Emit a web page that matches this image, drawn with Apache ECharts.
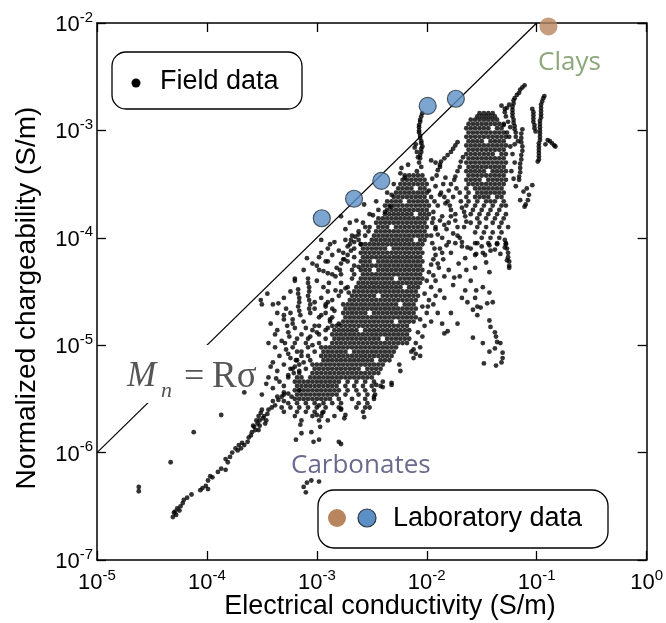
<!DOCTYPE html>
<html><head><meta charset="utf-8">
<script src="https://cdn.jsdelivr.net/npm/echarts@6/dist/echarts.min.js"></script>
<style>html,body{margin:0;padding:0;background:#fff}#c{width:666px;height:623px}</style>
</head><body><div id="c"></div>
<script>
// ---- Data ----
// Laboratory data
const labSigma = [1.11e-3, 2.18e-3, 3.86e-3, 1.02e-2, 1.84e-2];
const labMn    = [1.52e-4, 2.31e-4, 3.39e-4, 1.69e-3, 1.97e-3];
const claySigma = [0.128];
const clayMn    = [9.3e-3];
// Mn = R * sigma, R = 0.1
const R = 0.1;
const lineSigma = [1e-5, 1e-1];

// Field data (log10 values). Dense rows: [log10 Mn, [log10 sigma ...]]
const bandRows = [
[-3.42,[-2.20,-2.16,-2.12,-2.08,-2.04]],
[-3.46,[-2.22,-2.18,-2.14,-2.10,-2.06,-2.02]],
[-3.50,[-2.30,-2.24,-2.20,-2.16,-2.12,-2.08,-2.04,-2.00]],
[-3.54,[-2.26,-2.22,-2.18,-2.14,-2.06,-2.02]],
[-3.58,[-2.36,-2.28,-2.24,-2.20,-2.16,-2.12,-2.08,-2.04,-2.00]],
[-3.62,[-2.30,-2.26,-2.22,-2.18,-2.14,-2.10,-2.06,-2.02]],
[-3.66,[-2.46,-2.36,-2.32,-2.28,-2.24,-2.16,-2.12,-2.08,-2.04,-2.00]],
[-3.70,[-2.38,-2.34,-2.30,-2.26,-2.22,-2.18,-2.14,-2.10,-2.06,-2.02,-1.98]],
[-3.74,[-2.44,-2.36,-2.32,-2.28,-2.24,-2.20,-2.16,-2.12,-2.08,-2.04,-2.00]],
[-3.78,[-2.52,-2.38,-2.34,-2.30,-2.26,-2.22,-2.18,-2.14,-2.06,-2.02,-1.98]],
[-3.82,[-2.44,-2.40,-2.36,-2.32,-2.28,-2.24,-2.20,-2.16,-2.12,-2.08,-2.04,-2.00,-1.94]],
[-3.86,[-2.58,-2.46,-2.42,-2.38,-2.34,-2.30,-2.26,-2.22,-2.18,-2.14,-2.10,-2.06,-2.02]],
[-3.90,[-2.52,-2.44,-2.40,-2.36,-2.28,-2.24,-2.20,-2.16,-2.12,-2.08,-2.04,-2.00,-1.92]],
[-3.94,[-2.62,-2.46,-2.42,-2.38,-2.34,-2.30,-2.26,-2.22,-2.18,-2.14,-2.10,-2.06,-2.02]],
[-3.98,[-2.68,-2.56,-2.48,-2.44,-2.40,-2.36,-2.32,-2.28,-2.24,-2.20,-2.16,-2.12,-2.08,-2.04,-2.00]],
[-4.02,[-2.74,-2.62,-2.50,-2.46,-2.42,-2.38,-2.34,-2.30,-2.26,-2.22,-2.18,-2.14,-2.06,-2.02]],
[-4.06,[-2.88,-2.70,-2.60,-2.56,-2.52,-2.48,-2.44,-2.40,-2.36,-2.32,-2.28,-2.24,-2.20,-2.16,-2.12,-2.08,-2.04]],
[-4.10,[-2.66,-2.58,-2.54,-2.50,-2.46,-2.42,-2.38,-2.30,-2.26,-2.22,-2.18,-2.14,-2.10,-2.06]],
[-4.14,[-2.96,-2.76,-2.60,-2.56,-2.52,-2.48,-2.44,-2.40,-2.36,-2.32,-2.28,-2.24,-2.20,-2.16,-2.12,-2.08,-2.04]],
[-4.18,[-2.66,-2.58,-2.54,-2.50,-2.46,-2.42,-2.38,-2.34,-2.30,-2.26,-2.22,-2.18,-2.14,-2.10,-2.06]],
[-4.22,[-2.90,-2.72,-2.60,-2.56,-2.52,-2.44,-2.40,-2.36,-2.32,-2.28,-2.24,-2.20,-2.16,-2.12,-2.08,-2.04]],
[-4.26,[-3.00,-2.66,-2.58,-2.54,-2.50,-2.46,-2.42,-2.38,-2.34,-2.30,-2.26,-2.22,-2.18,-2.14,-2.10,-2.06]],
[-4.30,[-2.68,-2.60,-2.56,-2.52,-2.44,-2.40,-2.36,-2.32,-2.28,-2.24,-2.20,-2.16,-2.12,-2.08,-2.04]],
[-4.34,[-2.78,-2.66,-2.58,-2.54,-2.50,-2.46,-2.42,-2.38,-2.34,-2.30,-2.26,-2.22,-2.18,-2.14,-2.10,-2.06]],
[-4.38,[-3.20,-2.68,-2.60,-2.56,-2.52,-2.48,-2.44,-2.40,-2.36,-2.32,-2.24,-2.20,-2.16,-2.12,-2.08,-2.04]],
[-4.42,[-2.78,-2.62,-2.58,-2.54,-2.50,-2.46,-2.42,-2.38,-2.34,-2.30,-2.26,-2.22,-2.18,-2.14,-2.10,-2.06]],
[-4.46,[-2.72,-2.64,-2.60,-2.56,-2.52,-2.48,-2.44,-2.40,-2.36,-2.32,-2.28,-2.24,-2.16,-2.12,-2.08]],
[-4.50,[-2.90,-2.78,-2.66,-2.62,-2.58,-2.54,-2.50,-2.46,-2.42,-2.38,-2.34,-2.30,-2.26,-2.22,-2.18,-2.14,-2.10]],
[-4.54,[-2.80,-2.68,-2.64,-2.60,-2.56,-2.52,-2.48,-2.40,-2.36,-2.32,-2.28,-2.24,-2.20,-2.16,-2.12,-2.08]],
[-4.58,[-2.86,-2.70,-2.66,-2.62,-2.58,-2.54,-2.50,-2.46,-2.42,-2.38,-2.34,-2.30,-2.26,-2.22,-2.18,-2.14,-2.10]],
[-4.62,[-2.92,-2.76,-2.72,-2.68,-2.64,-2.60,-2.56,-2.52,-2.48,-2.44,-2.40,-2.36,-2.32,-2.28,-2.20,-2.16,-2.12]],
[-4.66,[-3.02,-2.86,-2.74,-2.70,-2.66,-2.62,-2.58,-2.54,-2.50,-2.46,-2.42,-2.38,-2.34,-2.30,-2.26,-2.22,-2.18,-2.14,-2.10]],
[-4.70,[-2.92,-2.76,-2.72,-2.68,-2.64,-2.60,-2.56,-2.48,-2.44,-2.40,-2.36,-2.32,-2.28,-2.24,-2.20,-2.16,-2.12]],
[-4.74,[-2.98,-2.86,-2.74,-2.70,-2.66,-2.62,-2.58,-2.54,-2.50,-2.46,-2.42,-2.38,-2.34,-2.30,-2.26,-2.22,-2.18,-2.14,-2.10]],
[-4.78,[-2.88,-2.76,-2.72,-2.68,-2.64,-2.60,-2.56,-2.52,-2.48,-2.44,-2.40,-2.36,-2.32,-2.24,-2.20,-2.16,-2.12]],
[-4.82,[-2.98,-2.86,-2.82,-2.78,-2.74,-2.70,-2.66,-2.62,-2.58,-2.54,-2.50,-2.46,-2.42,-2.38,-2.34,-2.30,-2.26,-2.22,-2.18]],
[-4.86,[-3.04,-2.92,-2.84,-2.80,-2.76,-2.72,-2.68,-2.64,-2.56,-2.52,-2.48,-2.44,-2.40,-2.36,-2.32,-2.28,-2.24,-2.20,-2.16]],
[-4.90,[-2.98,-2.86,-2.82,-2.78,-2.74,-2.70,-2.66,-2.62,-2.58,-2.54,-2.50,-2.46,-2.42,-2.38,-2.34,-2.30,-2.26,-2.22,-2.18]],
[-4.94,[-3.08,-2.92,-2.84,-2.80,-2.76,-2.72,-2.68,-2.64,-2.60,-2.56,-2.52,-2.48,-2.44,-2.36,-2.32,-2.28,-2.24,-2.20,-2.16]],
[-4.98,[-2.98,-2.86,-2.82,-2.78,-2.74,-2.70,-2.66,-2.62,-2.58,-2.54,-2.50,-2.46,-2.42,-2.38,-2.34,-2.30,-2.26,-2.22,-2.18]],
[-5.02,[-3.08,-2.96,-2.92,-2.88,-2.84,-2.80,-2.76,-2.72,-2.68,-2.64,-2.60,-2.56,-2.52,-2.48,-2.44,-2.40,-2.36,-2.32,-2.28]],
[-5.06,[-3.14,-3.02,-2.94,-2.90,-2.86,-2.82,-2.78,-2.74,-2.66,-2.62,-2.58,-2.54,-2.50,-2.46,-2.42,-2.38,-2.34,-2.30]],
[-5.10,[-3.08,-2.96,-2.92,-2.88,-2.84,-2.80,-2.76,-2.72,-2.68,-2.64,-2.60,-2.56,-2.52,-2.48,-2.44,-2.40,-2.36,-2.32]],
[-5.14,[-3.18,-3.06,-2.94,-2.90,-2.86,-2.82,-2.78,-2.74,-2.70,-2.66,-2.62,-2.58,-2.54,-2.50,-2.42,-2.38,-2.34]],
[-5.18,[-3.16,-3.04,-3.00,-2.96,-2.92,-2.88,-2.84,-2.80,-2.76,-2.72,-2.68,-2.64,-2.60,-2.56,-2.52,-2.48,-2.44,-2.40]],
[-5.22,[-3.22,-3.10,-3.02,-2.98,-2.94,-2.90,-2.86,-2.82,-2.78,-2.74,-2.70,-2.66,-2.62,-2.54,-2.50,-2.46,-2.42]],
[-5.26,[-3.16,-3.04,-3.00,-2.96,-2.92,-2.88,-2.84,-2.80,-2.76,-2.72,-2.68,-2.64,-2.60,-2.56,-2.52,-2.48,-2.44]],
[-5.30,[-3.26,-3.14,-3.06,-3.02,-2.98,-2.94,-2.90,-2.86,-2.82,-2.78,-2.74,-2.70,-2.66,-2.62,-2.58,-2.54,-2.50]],
[-5.34,[-3.20,-3.16,-3.12,-3.08,-3.04,-3.00,-2.96,-2.92,-2.88,-2.84,-2.80,-2.72,-2.64,-2.56,-2.48,-2.40]],
[-5.38,[-3.30,-3.18,-3.14,-3.10,-3.06,-3.02,-2.98,-2.94,-2.90,-2.86,-2.82,-2.74,-2.66,-2.58,-2.50,-2.42]],
[-5.42,[-3.20,-3.16,-3.12,-3.08,-3.04,-3.00,-2.96,-2.92,-2.88,-2.84,-2.80,-2.72,-2.64,-2.56,-2.48]],
[-5.46,[-3.30,-3.18,-3.14,-3.10,-3.06,-3.02,-2.98,-2.94,-2.90,-2.86,-2.82,-2.74,-2.62,-2.54]],
[-5.50,[-3.20,-3.16,-3.12,-3.08,-3.04,-3.00,-2.96,-2.92,-2.88,-2.80,-2.68,-2.56,-2.48]],
[-5.54,[-3.26,-3.18,-3.10,-3.02,-2.94,-2.86,-2.78,-2.62,-2.54]],
[-5.58,[-3.24,-3.16,-3.08,-3.00,-2.92,-2.80,-2.56,-2.52]],
[-5.62,[-3.30,-3.18,-3.10,-3.02,-2.94,-2.58]],
[-5.66,[-3.20,-3.04,-2.96,-2.84]],
[-5.70,[-3.14,-2.98,-2.90]]
];

// Upper-right dense cluster (~2e-2 to 5e-2 S/m)
const clusterRows = [
[-2.84,[-1.52,-1.48,-1.44,-1.40]],
[-2.87,[-1.54,-1.50,-1.46,-1.42,-1.38]],
[-2.90,[-1.60,-1.56,-1.52,-1.48,-1.44,-1.40,-1.36]],
[-2.94,[-1.62,-1.58,-1.54,-1.50,-1.46,-1.42,-1.38,-1.34,-1.30]],
[-2.98,[-1.64,-1.60,-1.56,-1.52,-1.48,-1.44,-1.36,-1.32]],
[-3.02,[-1.62,-1.58,-1.54,-1.50,-1.46,-1.42,-1.38,-1.34,-1.30]],
[-3.06,[-1.64,-1.60,-1.56,-1.52,-1.48,-1.44,-1.40,-1.36,-1.32,-1.28]],
[-3.10,[-1.62,-1.58,-1.54,-1.50,-1.42,-1.38,-1.34,-1.30]],
[-3.14,[-1.64,-1.60,-1.56,-1.52,-1.48,-1.44,-1.40,-1.36,-1.32,-1.28]],
[-3.18,[-1.62,-1.58,-1.54,-1.50,-1.46,-1.42,-1.38,-1.34,-1.30]],
[-3.22,[-1.64,-1.60,-1.56,-1.52,-1.48,-1.44,-1.40,-1.32,-1.28]],
[-3.26,[-1.62,-1.58,-1.54,-1.50,-1.46,-1.42,-1.38,-1.34,-1.30]],
[-3.30,[-1.64,-1.60,-1.56,-1.52,-1.48,-1.44,-1.40,-1.36,-1.32,-1.28]],
[-3.34,[-1.62,-1.58,-1.54,-1.50,-1.46,-1.42,-1.38,-1.34,-1.30]],
[-3.38,[-1.64,-1.60,-1.56,-1.52,-1.48,-1.40,-1.36,-1.32,-1.28]],
[-3.42,[-1.62,-1.58,-1.54,-1.50,-1.46,-1.42,-1.38,-1.34,-1.30]],
[-3.46,[-1.64,-1.60,-1.56,-1.52,-1.44,-1.40,-1.36,-1.32,-1.28]],
[-3.50,[-1.62,-1.58,-1.54,-1.50,-1.46,-1.42,-1.38,-1.34,-1.30]],
[-3.54,[-1.64,-1.56,-1.52,-1.48,-1.44,-1.40,-1.36,-1.32]],
[-3.58,[-1.62,-1.54,-1.50,-1.46,-1.42,-1.38,-1.34,-1.30]],
[-3.62,[-1.64,-1.56,-1.52,-1.48,-1.44,-1.36,-1.32]],
[-3.66,[-1.62,-1.54,-1.46,-1.42,-1.38,-1.30]],
[-3.70,[-1.64,-1.56,-1.48,-1.40,-1.32,-1.28]],
[-3.74,[-1.58,-1.50,-1.42,-1.34]],
[-3.78,[-1.60,-1.52,-1.44,-1.36,-1.28]],
[-3.82,[-1.54,-1.46,-1.38,-1.30]],
[-3.86,[-1.60,-1.52,-1.40,-1.32]],
[-3.90,[-1.54,-1.46,-1.34,-1.26]],
[-3.95,[-1.56,-1.48,-1.40,-1.32]],
[-4.00,[-1.50,-1.42,-1.34]],
[-4.05,[-1.56,-1.44,-1.36,-1.28]]
];

// Streaks and scattered field points [log10 sigma, log10 Mn]
const streakHigh = [
[-1.11,-2.58],[-1.13,-2.60],[-1.15,-2.62],[-1.16,-2.65],[-1.18,-2.67],[-1.20,-2.70],[-1.21,-2.72],[-1.21,-2.75],
[-1.22,-2.78],[-1.22,-2.81],[-1.22,-2.84],[-1.22,-2.87],[-1.21,-2.90],[-1.21,-2.93],[-1.20,-2.96],[-1.20,-2.99],
[-1.19,-3.02],[-1.27,-2.79],[-1.29,-2.83],[-1.25,-2.76],[-1.32,-2.77],[-1.29,-2.80],
[-1.28,-2.87],[-1.26,-2.92],[-1.24,-2.97],[-1.27,-3.02],[-1.25,-3.06],[-1.30,-2.95],[-1.19,-3.06],[-1.17,-3.10],[-1.20,-3.13],
[-1.04,-2.80],[-1.03,-2.83],[-1.03,-2.86],[-1.03,-2.89],[-1.03,-2.92],[-1.02,-2.95],[-1.02,-2.98],[-1.01,-3.01],
[-1.24,-3.15],[-1.22,-3.22],[-1.20,-3.30],[-1.23,-3.38],[-1.21,-3.45],[-1.19,-3.52]
];
const streakClay = [
[-0.93,-2.68],[-0.94,-2.70],[-0.95,-2.73],[-0.96,-2.76],[-0.96,-2.79],[-0.96,-2.82],[-0.96,-2.85],[-0.96,-2.88],
[-0.97,-2.91],[-0.97,-2.94],[-0.97,-2.97],[-0.97,-3.00],[-0.97,-3.03],[-0.97,-3.06],[-0.97,-3.09],[-0.98,-3.12],
[-0.98,-3.15],[-0.98,-3.18],[-0.98,-3.21],[-0.98,-3.24],[-0.98,-3.27],[-0.99,-3.29],
[-0.90,-3.09],[-0.88,-3.10],[-0.86,-3.12],[-0.84,-3.14],[-0.83,-3.15],[-0.92,-3.13],
[-1.13,-2.99],[-1.14,-3.03],[-1.14,-3.07],[-1.14,-3.11],[-1.13,-3.15],[-1.13,-3.19],[-1.14,-3.23],[-1.14,-3.27],
[-1.15,-3.31],[-1.15,-3.35],[-1.15,-3.39],[-1.16,-3.43],[-1.16,-3.46],
[-1.12,-3.57],[-1.09,-3.54],[-1.04,-3.51],[-1.15,-3.65],[-1.11,-3.71],[-1.07,-3.60],[-1.08,-3.65],[-1.10,-3.69]
];
const tailLab = [
[-2.04,-2.84],[-2.05,-2.87],[-2.06,-2.90],[-2.06,-2.92],[-2.07,-2.95],[-2.07,-2.97],[-2.07,-3.00],[-2.07,-3.02],
[-2.06,-3.05],[-2.06,-3.07],[-2.05,-3.10],[-2.05,-3.12],[-2.04,-3.15],[-2.05,-3.17],[-2.05,-3.20],[-2.06,-3.23],
[-2.06,-3.26],[-2.10,-3.13],[-2.11,-3.16],[-2.09,-3.20],[-2.08,-3.25],[-2.23,-3.35],[-2.17,-3.32],[-2.24,-3.40],
[-2.20,-3.44],[-2.07,-3.30],[-2.05,-3.34],[-2.09,-3.38],[-1.96,-3.28],[-1.92,-3.30],[-1.88,-3.32]
];
const midScatter = [
[-1.72,-3.11],[-1.74,-3.14],[-1.76,-3.17],[-1.78,-3.20],[-1.81,-3.23],[-1.84,-3.26],[-1.87,-3.29],[-1.88,-3.34],[-1.90,-3.37],
[-1.67,-3.25],[-1.69,-3.29],[-1.70,-3.34],[-1.72,-3.38],[-1.74,-3.43],[-1.75,-3.46],
[-1.95,-3.45],[-1.92,-3.52],[-1.85,-3.50],[-1.80,-3.56],[-1.88,-3.60],[-1.76,-3.62],[-1.70,-3.58],[-1.83,-3.68],
[-1.93,-3.66],[-1.78,-3.74],[-1.68,-3.72],[-1.86,-3.80],[-1.74,-3.84],[-1.95,-3.86],[-1.66,-3.90],[-1.82,-3.92],
[-1.90,-3.97],[-1.72,-3.98],[-1.80,-4.04],[-1.68,-4.08],[-1.93,-4.10],[-1.86,-4.14],
[-1.87,-3.58],[-1.84,-3.62],[-1.81,-3.66],[-1.79,-3.70],[-1.66,-3.76],[-1.65,-3.80],[-1.64,-3.85],
[-1.95,-4.05],[-1.88,-4.10],[-1.82,-4.07],[-1.92,-4.16],[-1.85,-4.20],[-1.78,-4.14],[-1.96,-4.25],[-1.89,-4.28],
[-1.80,-4.30],[-1.94,-4.35],[-1.71,-4.24],
[-1.68,-4.04],[-1.60,-4.10],[-1.50,-4.08],[-1.42,-4.12],[-1.36,-4.06],[-1.47,-4.16],[-1.55,-4.15],[-1.33,-4.15],
[-1.54,-4.05],[-1.43,-4.07],[-1.38,-4.11],[-1.29,-4.09],[-1.27,-4.21],[-1.25,-4.28],[-1.46,-4.23],[-1.43,-4.32],
[-1.56,-4.16],[-1.49,-4.14],[-1.63,-4.09],[-1.74,-4.05],[-1.65,-4.19],[-1.56,-4.28],
[-1.29,-4.02],[-1.28,-4.06],[-1.27,-4.10],[-1.26,-4.14],[-1.26,-4.18],[-1.25,-4.22],[-1.25,-4.26],
[-1.88,-4.49],[-1.99,-4.64],[-1.75,-4.37],[-1.65,-4.49],[-1.63,-4.60],[-1.56,-4.56],[-1.55,-4.49],[-1.49,-4.46],
[-1.54,-4.64],[-1.51,-4.65],[-1.58,-4.67],[-1.54,-4.72],[-1.43,-4.51],[-1.40,-4.60],[-1.45,-4.61],
[-1.43,-4.77],[-1.42,-4.83],[-1.38,-4.88],[-1.37,-4.92],[-1.36,-4.97],[-1.33,-4.98],[-1.31,-5.07],[-1.31,-5.12],
[-1.32,-5.16],[-1.38,-5.03],[-1.43,-5.06],[-1.48,-5.17],[-1.37,-5.19],[-1.49,-4.98],[-1.58,-4.93],
[-1.84,-4.89],[-1.81,-4.87],
[-2.00,-4.40],[-1.96,-4.46],[-2.02,-4.52],[-1.98,-4.58],[-2.04,-4.64],[-2.00,-4.70],[-2.06,-4.76],[-2.02,-4.82],
[-2.08,-4.88],[-2.04,-4.92],[-2.10,-4.98],[-2.06,-5.02],[-2.12,-5.04],[-1.94,-4.62],[-1.92,-4.54],
[-2.14,-5.06],[-2.10,-5.08],[-2.06,-5.10],[-2.12,-5.12],[-2.25,-5.18],[-2.24,-5.24],[-2.32,-5.35],[-2.48,-5.48],
[-2.57,-5.67],[-2.64,-5.58],[-2.47,-5.46],[-2.46,-5.37],[-2.40,-5.39],[-2.32,-5.37],
[-1.96,-3.62],[-1.90,-3.70],[-1.94,-3.76],[-1.88,-3.84],[-1.92,-3.92],[-1.84,-3.88],[-1.78,-3.80],[-1.72,-3.90],
[-1.76,-3.96],[-1.70,-4.00],[-1.86,-4.00],[-1.96,-3.98],[-1.80,-3.86],[-1.74,-3.78],[-1.69,-3.66],[-1.73,-3.54],
[-1.78,-3.50],[-1.83,-3.44],[-1.91,-3.42],[-1.98,-3.56],[-1.94,-4.20],[-1.90,-4.24],[-1.98,-4.32],[-1.92,-4.40],
[-1.84,-4.36],[-1.76,-4.44],[-1.70,-4.36],[-1.64,-4.30],[-1.60,-4.40],[-1.68,-4.56],[-1.84,-4.56],[-1.90,-4.70],
[-1.96,-4.78],[-1.86,-4.80],[-1.78,-4.70],[-1.72,-4.80]
];
const leftScatter = [
[-2.57,-3.69],[-2.49,-3.79],[-2.38,-3.76],[-2.33,-3.71],[-2.32,-3.60],[-2.56,-3.90],[-2.53,-3.94],[-2.62,-3.97],
[-2.65,-3.99],[-2.66,-4.04],[-2.60,-4.06],[-2.72,-4.08],[-2.80,-4.12],[-2.86,-4.16],[-2.92,-4.22],[-2.76,-4.20],
[-2.78,-3.80],[-2.69,-4.02],[-2.79,-4.30],[-2.62,-4.27],
[-3.17,-4.48],[-3.17,-4.52],[-3.16,-4.56],[-3.16,-4.60],[-3.17,-4.64],[-3.16,-4.68],[-3.15,-4.72],
[-3.08,-4.38],[-3.08,-4.42],[-3.07,-4.46],[-3.07,-4.50],[-3.08,-4.54],[-3.07,-4.58],[-3.06,-4.62],[-3.07,-4.66],[-3.06,-4.70],
[-2.98,-4.30],[-2.94,-4.31],[-2.90,-4.33],[-2.86,-4.34],[-2.83,-4.36],
[-2.82,-4.28],[-2.78,-4.24],[-2.75,-4.20],[-2.72,-4.16],[-2.69,-4.12],
[-3.09,-4.19],[-3.45,-4.52],[-3.51,-4.58],[-3.50,-4.62],[-3.35,-4.61],
[-2.94,-4.46],[-2.89,-4.42],[-2.83,-4.49],[-2.74,-4.47],[-2.71,-4.51],
[-3.30,-4.76],[-3.22,-4.80],[-3.12,-4.78],[-3.02,-4.82],[-3.36,-4.86],[-3.26,-4.88],[-3.14,-4.90],[-3.06,-4.92],
[-3.32,-4.96],[-3.20,-4.98],[-3.10,-4.98],[-3.38,-5.02],[-3.28,-5.04],[-3.18,-5.06],[-3.34,-5.10],[-3.24,-5.12],
[-3.14,-5.10],[-3.40,-5.16],[-3.30,-5.18],[-3.20,-5.20],[-3.36,-5.24],[-3.26,-5.28],[-3.44,-5.30],[-3.34,-5.34],
[-3.40,-5.40],[-3.30,-5.44],[-3.36,-5.48],[-3.37,-5.31],
[-3.28,-4.66],[-3.24,-4.70],[-3.30,-4.72],[-3.22,-4.76],[-3.27,-4.82],[-3.20,-4.84],[-3.25,-4.92],[-3.18,-4.94],
[-3.29,-4.98],[-3.22,-5.02],[-3.26,-5.08],[-3.19,-5.14],[-3.24,-5.22],[-3.21,-5.26],[-3.18,-5.30],
[-2.92,-4.64],[-2.84,-4.68],[-2.96,-4.72],[-2.88,-4.76],[-2.80,-4.80],[-2.90,-4.84],[-3.00,-4.88],
[-3.00,-4.40],[-2.96,-4.56],[-3.02,-4.60],[-2.90,-4.60],[-3.10,-4.84],[-3.04,-5.00],[-3.12,-5.16],[-3.16,-5.24],
[-3.42,-5.20],[-3.46,-5.36],[-3.50,-5.46],[-3.40,-5.52],[-3.32,-5.58],[-3.38,-4.90],[-3.44,-4.98],[-3.42,-4.80],
[-3.36,-4.70],[-3.40,-4.62],[-3.30,-4.56],[-3.24,-4.50],[-3.20,-4.40],[-3.12,-4.30],[-3.04,-4.24],[-2.98,-4.18],
[-2.90,-4.10],[-2.84,-4.04],[-2.96,-4.02],[-2.74,-3.92],[-2.70,-3.86],[-2.64,-3.84]
];
const lowTrail = [
[-4.62,-6.32],[-4.62,-6.36],[-4.33,-6.09],[-4.12,-5.81],[-3.87,-5.65],[-3.66,-5.44],
[-4.31,-6.60],[-4.30,-6.56],[-4.28,-6.58],[-4.29,-6.55],[-4.27,-6.52],[-4.24,-6.50],[-4.21,-6.44],[-4.18,-6.42],
[-4.04,-6.33],[-3.99,-6.26],[-3.95,-6.23],[-3.99,-6.34],[-4.01,-6.31],
[-3.87,-6.15],[-3.83,-6.16],[-3.81,-6.09],[-3.83,-6.06],
[-3.77,-6.00],[-3.72,-5.98],[-3.71,-5.93],[-3.68,-5.91],[-3.69,-5.96],
[-3.63,-5.90],[-3.60,-5.84],[-3.59,-5.81],[-3.57,-5.76],[-3.54,-5.73],[-3.53,-5.79],[-3.51,-5.63],[-3.50,-5.60],[-3.47,-5.73],
[-3.44,-5.60],[-3.41,-5.58],[-3.35,-5.51],[-3.32,-5.48],[-3.26,-5.45],[-3.23,-5.48],[-3.16,-5.42],
[-4.25,-6.54],[-4.22,-6.47],[-4.14,-6.39],[-4.06,-6.35],[-3.97,-6.22],[-3.90,-6.18],[-3.79,-6.04],[-3.74,-5.96],
[-3.66,-5.93],[-3.62,-5.86],[-3.56,-5.79],[-3.52,-5.70],[-3.48,-5.66],[-3.45,-5.64],[-3.38,-5.56],[-3.30,-5.52],
[-3.58,-5.75],[-3.55,-5.70],[-3.52,-5.75],[-3.49,-5.68],[-3.46,-5.70],[-3.53,-5.66]
];
const lowScatter = [
[-3.15,-5.74],[-3.14,-5.82],[-3.05,-5.81],[-2.97,-5.76],[-3.19,-5.88],[-3.03,-5.90],[-2.98,-5.88],[-2.80,-5.90],
[-2.78,-5.92],[-2.78,-5.60],[-2.74,-5.65],[-2.75,-5.68],[-2.78,-5.59],[-2.98,-5.56],[-2.95,-5.63],[-3.00,-5.65],
[-3.12,-6.32],[-3.09,-6.28],[-3.05,-6.26],[-2.98,-6.27],[-3.10,-6.37]
];

// ---- Build data for the log axes ----
const fieldLog = [];
bandRows.concat(clusterRows).forEach(([ly, xs]) => xs.forEach(lx => fieldLog.push([lx, ly])));
[streakHigh, streakClay, tailLab, midScatter, leftScatter, lowTrail, lowScatter].forEach(a => a.forEach(p => fieldLog.push(p)));
const fieldData = fieldLog.map(([lx, ly]) => [Math.pow(10, lx), Math.pow(10, ly)]);
const labData = labSigma.map((s, i) => [s, labMn[i]]);
const clayData = claySigma.map((s, i) => [s, clayMn[i]]);
const lineData = lineSigma.map(s => [s, R * s]);

const FONT = 'Liberation Sans, Arial, sans-serif';
const tickFmt = v => '{b|10}{s|' + Math.round(Math.log10(v)) + '}';
const tickRich = {
  b: {fontSize: 22, fontFamily: FONT, color: '#000', lineHeight: 26, verticalAlign: 'bottom'},
  s: {fontSize: 15, fontFamily: FONT, color: '#000', lineHeight: 12, verticalAlign: 'top'}
};
const axisLine = {show: true, lineStyle: {color: '#000', width: 1.5}};
const axisTick = {show: true, inside: true, length: 9, lineStyle: {color: '#000', width: 1.3}};

const chart = echarts.init(document.getElementById('c'), null, {renderer: 'canvas'});
chart.setOption({
  animation: false,
  backgroundColor: '#fff',
  grid: {left: 97, right: 16, top: 23, bottom: 63},
  xAxis: [
    {type: 'log', logBase: 10, min: 1e-5, max: 1, position: 'bottom', axisLine, axisTick,
     splitLine: {show: false}, minorTick: {show: false},
     axisLabel: {formatter: tickFmt, rich: tickRich, margin: 8, showMinLabel: true, showMaxLabel: true}},
    {type: 'log', logBase: 10, min: 1e-5, max: 1, position: 'top', axisLine, axisTick,
     splitLine: {show: false}, axisLabel: {show: false}}
  ],
  yAxis: [
    {type: 'log', logBase: 10, min: 1e-7, max: 1e-2, position: 'left', axisLine, axisTick,
     splitLine: {show: false}, minorTick: {show: false},
     axisLabel: {formatter: tickFmt, rich: tickRich, margin: 4, showMinLabel: true, showMaxLabel: true}},
    {type: 'log', logBase: 10, min: 1e-7, max: 1e-2, position: 'right', axisLine, axisTick,
     splitLine: {show: false}, axisLabel: {show: false}}
  ],
  series: [
    {type: 'line', data: lineData, showSymbol: false, symbol: 'none', z: 1, silent: true,
     lineStyle: {color: '#000', width: 1.2}},
    {type: 'scatter', data: fieldData, symbol: 'circle', symbolSize: 4.8, z: 3, silent: true,
     itemStyle: {color: '#000'}},
    {type: 'scatter', data: labData, symbol: 'circle', symbolSize: 17, z: 4, silent: true,
     itemStyle: {color: '#5c8fc6', borderColor: '#2b3540', borderWidth: 1.2}},
    {type: 'scatter', data: clayData, symbol: 'circle', symbolSize: 18, z: 4, silent: true,
     itemStyle: {color: '#b9855f'}}
  ],
  graphic: [
    // gap in the line behind the equation
    {type: 'rect', z: 2, silent: true, shape: {x: 125, y: 345, width: 137, height: 58}, style: {fill: '#fff'}},
    {type: 'text', z: 2, silent: true, x: 127, y: 377, style: {text: 'M', font: 'italic 35px "Liberation Serif", serif', fill: '#555', verticalAlign: 'middle'}},
    {type: 'text', z: 2, silent: true, x: 161, y: 391, style: {text: 'n', font: 'italic 22px "Liberation Serif", serif', fill: '#555', verticalAlign: 'middle'}},
    {type: 'text', z: 2, silent: true, x: 184, y: 378, style: {text: '=', font: '36px "Liberation Serif", serif', fill: '#555', verticalAlign: 'middle'}},
    {type: 'text', z: 2, silent: true, x: 212, y: 377, style: {text: 'Rσ', font: '37px "Liberation Serif", serif', fill: '#555', verticalAlign: 'middle'}},
    // axis titles
    {type: 'text', z: 10, silent: true, x: 390, y: 607, style: {text: 'Electrical conductivity (S/m)', font: '27px "Liberation Sans", Arial, sans-serif', fill: '#000', align: 'center', verticalAlign: 'middle'}},
    {type: 'text', z: 10, silent: true, x: 27, y: 298, rotation: Math.PI / 2, style: {text: 'Normalized chargeability (S/m)', font: '28px "Liberation Sans", Arial, sans-serif', fill: '#000', align: 'center', verticalAlign: 'middle'}},
    // annotations
    {type: 'text', z: 10, silent: true, x: 538, y: 63, style: {text: 'Clays', font: '26px "Open Sans", sans-serif', fill: '#8ca87a', verticalAlign: 'middle'}},
    {type: 'text', z: 10, silent: true, x: 291, y: 466, style: {text: 'Carbonates', font: '26px "Open Sans", sans-serif', fill: '#6a6a8e', verticalAlign: 'middle'}},
    // field data legend
    {type: 'rect', z: 10, silent: true, shape: {x: 112, y: 52, width: 190, height: 57, r: 14}, style: {fill: '#fff', stroke: '#000', lineWidth: 1.3}},
    {type: 'circle', z: 11, silent: true, shape: {cx: 136, cy: 83, r: 4.5}, style: {fill: '#000'}},
    {type: 'text', z: 11, silent: true, x: 160, y: 82, style: {text: 'Field data', font: '27px "Liberation Sans", Arial, sans-serif', fill: '#000', verticalAlign: 'middle'}},
    // laboratory legend
    {type: 'rect', z: 10, silent: true, shape: {x: 318, y: 490, width: 290, height: 58, r: 16}, style: {fill: '#fff', stroke: '#000', lineWidth: 1.3}},
    {type: 'circle', z: 11, silent: true, shape: {cx: 337, cy: 518, r: 9}, style: {fill: '#b9855f'}},
    {type: 'circle', z: 11, silent: true, shape: {cx: 367, cy: 518, r: 9}, style: {fill: '#5c8fc6', stroke: '#2b3540', lineWidth: 1.2}},
    {type: 'text', z: 11, silent: true, x: 393, y: 519, style: {text: 'Laboratory data', font: '27px "Liberation Sans", Arial, sans-serif', fill: '#000', verticalAlign: 'middle'}}
  ]
});
</script></body></html>
